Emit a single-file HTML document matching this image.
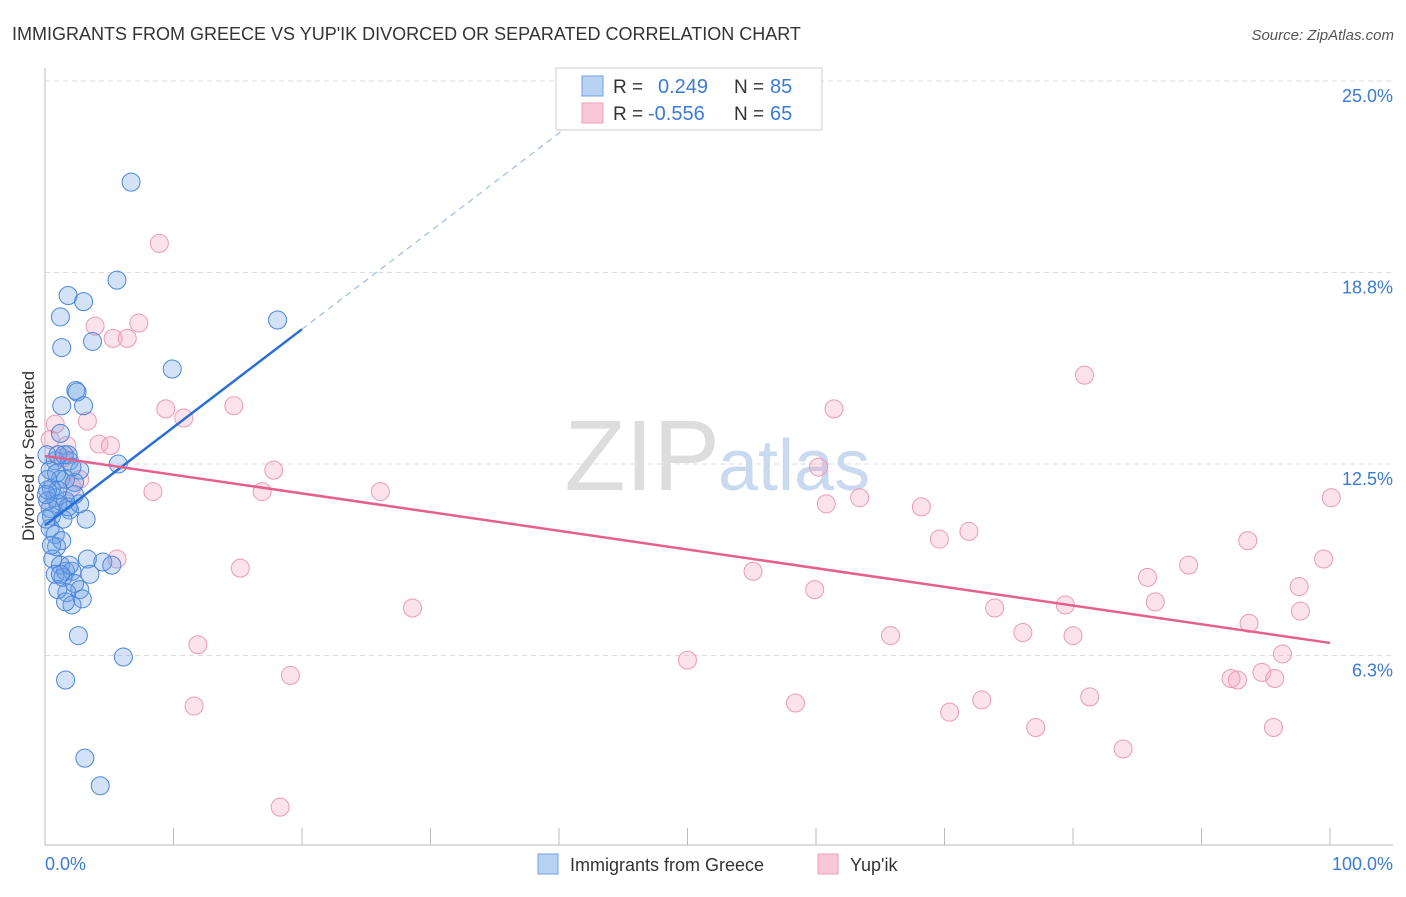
<!DOCTYPE html>
<html><head><meta charset="utf-8">
<style>
body{margin:0;background:#fff;font-family:"Liberation Sans",sans-serif;}
svg text{font-family:"Liberation Sans",sans-serif;}
</style></head>
<body>
<svg id="chart" width="1406" height="892" xmlns="http://www.w3.org/2000/svg">
<text x="12" y="40" font-size="18" fill="#333">IMMIGRANTS FROM GREECE VS YUP'IK DIVORCED OR SEPARATED CORRELATION CHART</text>
<text x="1394" y="40" font-size="15" fill="#555" font-style="italic" text-anchor="end">Source: ZipAtlas.com</text>
<g id="grid"></g>
<text x="720" y="490" font-size="100" fill="#ddd" text-anchor="end" font-family="Liberation Serif">ZIP</text>
<text x="718" y="490" font-size="72" fill="#c9d9f0">atlas</text>
<line x1="45" y1="68" x2="45" y2="845" stroke="#bbb"/>
<line x1="45" y1="845" x2="1393" y2="845" stroke="#bbb"/>
<text transform="translate(34,456) rotate(-90)" font-size="17" fill="#333" text-anchor="middle">Divorced or Separated</text>
<text x="45" y="870" font-size="18" fill="#3a7bd5">0.0%</text>
<text x="1393" y="870" font-size="18" fill="#3a7bd5" text-anchor="end">100.0%</text>
<g id="pts"></g>
<g id="lines"></g>
<g>
<rect x="556" y="68" width="266" height="62" fill="#fff" stroke="#ccc"/>
<rect x="582" y="76" width="21" height="20" fill="#b8d2f4" stroke="#6fa0e6"/>
<rect x="582" y="103" width="21" height="20" fill="#f9c8d8" stroke="#eda0b8"/>
<text x="613" y="93" font-size="19" fill="#333">R =</text>
<text x="658" y="93" font-size="20" fill="#3a7bd5">0.249</text>
<text x="734" y="93" font-size="19" fill="#333">N =</text>
<text x="770" y="93" font-size="20" fill="#3a7bd5">85</text>
<text x="613" y="120" font-size="19" fill="#333">R =</text>
<text x="648" y="120" font-size="20" fill="#3a7bd5">-0.556</text>
<text x="734" y="120" font-size="19" fill="#333">N =</text>
<text x="770" y="120" font-size="20" fill="#3a7bd5">65</text>
</g>
<g>
<rect x="538" y="854" width="20" height="20" fill="#b8d2f4" stroke="#6fa0e6"/>
<text x="570" y="871" font-size="18" fill="#333">Immigrants from Greece</text>
<rect x="818" y="854" width="20" height="20" fill="#f9c8d8" stroke="#eda0b8"/>
<text x="850" y="871" font-size="18" fill="#333">Yup'ik</text>
</g>
</svg>
<script>
const yTicks=[6.25,12.5,18.75,25];
const yTickLabels=["6.3%","12.5%","18.8%","25.0%"];
const xTicks=[0,10,20,30,40,50,60,70,80,90,100];
const blueX=[6.7,5.6,1.8,3.0,1.2,18.1,1.3,3.7,9.9,2.4,2.5,1.3,3.0,1.2,5.7,1.8,0.8,1.9,2.7,0.4,1.2,1.6,0.5,2.3,0.8,1.6,0.2,1.0,1.9,0.5,1.4,3.2,0.4,0.8,0.9,0.6,3.3,1.2,4.5,5.2,1.6,2.1,0.8,1.4,3.5,2.3,2.7,1.7,2.9,2.1,2.6,6.1,1.6,3.1,4.3,0.15,0.2,0.4,0.1,1.0,2.1,0.9,1.5,1.8,2.7,0.2,1.0,1.3,1.0,1.6,1.9,1.2,0.5,0.1,2.3];
const blueY=[21.7,18.5,18.0,17.8,17.3,17.2,16.3,16.5,15.6,14.9,14.85,14.4,14.4,13.5,12.5,12.8,12.6,12.6,12.3,12.3,12.0,12.0,11.7,11.9,11.4,11.3,11.3,11.2,11.0,10.8,10.7,10.7,10.4,10.2,9.8,9.4,9.4,9.2,9.3,9.2,9.0,9.0,8.9,8.8,8.9,8.6,8.4,8.3,8.1,7.9,6.9,6.2,5.45,2.9,2.0,12.8,11.65,11.05,10.7,12.8,12.4,12.2,12.8,11.1,11.2,12.0,11.65,10.0,8.4,8.0,9.2,8.9,9.85,11.5,11.5];
const pinkX=[8.9,3.9,7.3,5.3,6.4,9.4,10.8,14.7,0.8,3.3,4.2,5.1,1.7,1.4,2.7,2.1,8.4,16.9,26.1,17.8,5.6,15.2,28.6,11.9,11.6,19.1,18.3,50.0,55.1,58.4,59.9,60.2,60.8,61.4,63.4,65.8,68.2,69.6,70.4,71.9,72.9,73.9,76.1,77.1,79.4,80.0,80.9,81.3,83.9,85.8,86.4,89.0,92.3,92.8,93.6,93.7,94.7,95.6,95.7,96.3,97.6,97.7,99.5,100.1,0.4];
const pinkY=[19.7,17.0,17.1,16.6,16.6,14.3,14.0,14.4,13.8,13.9,13.15,13.1,13.1,12.7,12.0,11.75,11.6,11.6,11.6,12.3,9.4,9.1,7.8,6.6,4.6,5.6,1.3,6.1,9.0,4.7,8.4,12.4,11.2,14.3,11.4,6.9,11.1,10.05,4.4,10.3,4.8,7.8,7.0,3.9,7.9,6.9,15.4,4.9,3.2,8.8,8.0,9.2,5.5,5.45,10.0,7.3,5.7,3.9,5.5,6.3,8.5,7.7,9.4,11.4,13.3];
const blueTrend=[10.5,0.32];
const pinkTrend=[12.76,-0.061];
const NS="http://www.w3.org/2000/svg";
const sx=v=>45+v*12.85, sy=v=>847-v*30.64;
function mk(t,a,p){const e=document.createElementNS(NS,t);for(const k in a)e.setAttribute(k,a[k]);p.appendChild(e);return e;}
const grid=document.getElementById('grid');
yTicks.forEach((t,i)=>{
 const l=mk('line',{x1:45,x2:1393,y1:sy(t),y2:sy(t),stroke:'#ddd','stroke-dasharray':'5,4'},grid);
 
 
 const tx=mk('text',{x:1393,y:sy(t)+21,'font-size':18,fill:'#3a7bd5','text-anchor':'end'},grid);
 tx.textContent=yTickLabels[i];
 
 
});
xTicks.forEach(t=>{
 const l=mk('line',{x1:sx(t),x2:sx(t),y1:828,y2:845,stroke:'#bbb'},grid);
 
 
});
const pts=document.getElementById('pts');
pinkX.forEach((x,i)=>{
 const c=mk('circle',{cx:sx(x),cy:sy(pinkY[i]),r:9,fill:'rgba(244,160,190,0.3)',stroke:'#eb9ab6','stroke-width':1},pts);
 
 
});
blueX.forEach((x,i)=>{
 const c=mk('circle',{cx:sx(x),cy:sy(blueY[i]),r:9,fill:'rgba(110,160,230,0.3)',stroke:'#4a86dc','stroke-width':1},pts);
 
 
});
const lines=document.getElementById('lines');
const bl=mk('line',{x1:sx(0),y1:sy(blueTrend[0]),x2:sx(20),y2:sy(blueTrend[0]+20*blueTrend[1]),stroke:'#2a6fd6','stroke-width':2.5},lines);


const bd=mk('line',{x1:sx(20),y1:sy(blueTrend[0]+20*blueTrend[1]),x2:sx(41),y2:sy(blueTrend[0]+41*blueTrend[1]),stroke:'#9dbbe8','stroke-width':1.2,'stroke-dasharray':'6,5'},lines);


const pl=mk('line',{x1:sx(0),y1:sy(pinkTrend[0]),x2:sx(100),y2:sy(pinkTrend[0]+100*pinkTrend[1]),stroke:'#e5608e','stroke-width':2.5},lines);


</script>
</body></html>
